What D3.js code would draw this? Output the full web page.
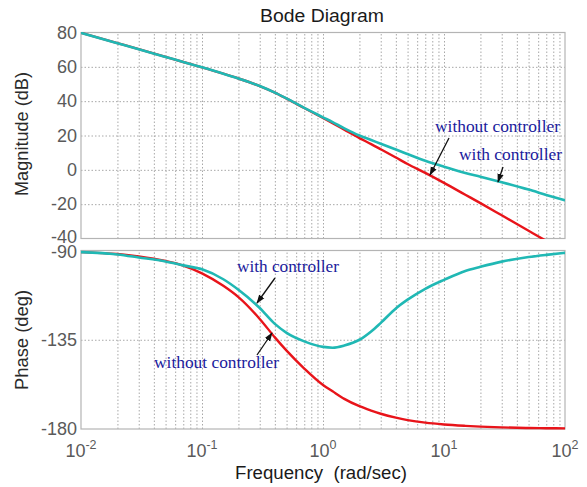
<!DOCTYPE html>
<html><head><meta charset="utf-8">
<script src="https://cdn.jsdelivr.net/npm/d3@7"></script>
<style>
html,body{margin:0;padding:0;background:#fff;}
svg{display:block;}
</style></head>
<body>
<svg id="c" width="587" height="487"></svg>
<script>
// ---- data ----
const freq = [0.01,0.02,0.03,0.05,0.07,0.1,0.15,0.2,0.3,0.4,0.5,0.7,1,1.2,1.5,2,2.5,3,4,5,7,10,15,20,30,50,70,100];
const magWithout = [79.8,73.8,70.3,65.8,62.8,59.7,56.0,53.2,48.8,45.0,41.5,36.0,30.2,27.2,23.4,18.5,15.0,12.0,7.2,3.4,-1.8,-7.6,-14.5,-19.4,-26.5,-35.5,-41.4,-47.5];
const magWith    = [79.8,73.8,70.3,65.8,62.8,59.7,56.0,53.2,48.8,45.0,41.6,36.1,30.6,27.8,24.2,20.0,17.4,15.2,11.8,9.2,5.3,1.8,-1.8,-4.0,-7.2,-11.5,-14.6,-17.8];
const phaseWithout = [-90.8,-91.8,-93,-95.3,-97.6,-101.5,-107.8,-113.5,-124.5,-133.8,-140.5,-149.5,-157.8,-161,-164.8,-168.5,-170.7,-172.3,-174.3,-175.5,-176.8,-177.7,-178.4,-178.8,-179.2,-179.5,-179.6,-179.7];
const phaseWith    = [-90.8,-92,-93.5,-95.5,-97.5,-99.5,-104.5,-109.8,-119,-127,-131.5,-135.8,-138.6,-139,-137.9,-135,-130.8,-126.5,-119.2,-114.8,-109.3,-104.8,-100.3,-98.2,-95.6,-93.3,-92.2,-91.2];
const magTicks = [-40,-20,0,20,40,60,80];
const phaseTicks = [-180,-135,-90];
const freqTicks = [0.01,0.1,1,10,100];
const freqTickLabels = ["-2","-1","0","1","2"];

const svg = d3.select("#c");
const L = 81, R = 565;
const x = d3.scaleLog().domain([0.01,100]).range([L,R]);
const yM = d3.scaleLinear().domain([-40,80]).range([238.5,32.5]);
const yP = d3.scaleLinear().domain([-180,-90]).range([429,250.5]);

const cyan = "#20b8b4", red = "#e8141a", navy = "#1a1a9c";
const gridColor = "#a8a8a8";
const sans = "Liberation Sans, Arial, sans-serif";
const serif = "Liberation Serif, Times New Roman, serif";

// minor + major frequency grid values
const gridFreqs = [];
for (let e=-2; e<2; e++) for (let k=1; k<10; k++) { const v=k*Math.pow(10,e); if (v>0.01) gridFreqs.push(v); }

function panel(y, yticks, top, bottom, labelShift) {
  const g = svg.append("g");
  g.append("g").attr("transform",`translate(0,${bottom})`)
    .call(d3.axisBottom(x).tickValues(gridFreqs).tickSize(-(bottom-top)).tickFormat(""))
    .call(s=>s.select(".domain").remove())
    .call(s=>s.selectAll("line").attr("stroke",gridColor).attr("stroke-dasharray","1.5,2").attr("stroke-width",1));
  g.append("g").attr("transform",`translate(${L},0)`)
    .call(d3.axisLeft(y).tickValues(yticks.filter(v=>v!==y.domain()[0] && v!==y.domain()[1])).tickSize(-(R-L)).tickFormat(""))
    .call(s=>s.select(".domain").remove())
    .call(s=>s.selectAll("line").attr("stroke",gridColor).attr("stroke-dasharray","1.5,2").attr("stroke-width",1));
  g.append("rect").attr("x",L).attr("y",top).attr("width",R-L).attr("height",bottom-top)
    .attr("fill","none").attr("stroke","#b4b4b4").attr("stroke-width",1.2);
  g.append("g").attr("transform",`translate(${L},0)`)
    .call(d3.axisLeft(y).tickValues(yticks).tickSize(0).tickPadding(4).tickFormat(d=>d))
    .call(s=>s.select(".domain").remove())
    .call(s=>s.selectAll("text").attr("font-family",sans).attr("font-size",18).attr("fill","#5a5a5a")
      .attr("dy",(d)=> (labelShift && labelShift[d]!==undefined) ? labelShift[d] : "0.32em"));
  return g;
}

panel(yM, magTicks, 32.5, 238.5, {"-40":"0.2em"});
panel(yP, phaseTicks, 250.5, 429, {"-90":"0.38em"});

const defs = svg.append("defs");
defs.append("clipPath").attr("id","clipM").append("rect").attr("x",L).attr("y",32).attr("width",R-L).attr("height",207);
defs.append("clipPath").attr("id","clipP").append("rect").attr("x",L).attr("y",250).attr("width",R-L).attr("height",180);
const marker = defs.append("marker").attr("id","arr").attr("viewBox","0 0 10 10").attr("refX",9).attr("refY",5)
  .attr("markerWidth",9).attr("markerHeight",9).attr("orient","auto").attr("markerUnits","userSpaceOnUse");
marker.append("path").attr("d","M0,1.5 L10,5 L0,8.5 Z").attr("fill","#111");

const lineM = arr => d3.line().x((d,i)=>x(freq[i])).y((d,i)=>yM(arr[i])).curve(d3.curveMonotoneX)(arr);
const lineP = arr => d3.line().x((d,i)=>x(freq[i])).y((d,i)=>yP(arr[i])).curve(d3.curveMonotoneX)(arr);

const cm = svg.append("g").attr("clip-path","url(#clipM)");
cm.append("path").attr("d",lineM(magWithout)).attr("fill","none").attr("stroke",red).attr("stroke-width",2.4);
cm.append("path").attr("d",lineM(magWith)).attr("fill","none").attr("stroke",cyan).attr("stroke-width",2.6);
const cp = svg.append("g").attr("clip-path","url(#clipP)");
cp.append("path").attr("d",lineP(phaseWithout)).attr("fill","none").attr("stroke",red).attr("stroke-width",2.4);
cp.append("path").attr("d",lineP(phaseWith)).attr("fill","none").attr("stroke",cyan).attr("stroke-width",2.6);

// x tick labels
const xl = svg.append("g").selectAll("text").data(freqTicks).join("text")
  .attr("x",d=>x(d)).attr("y",457).attr("text-anchor","middle")
  .attr("font-family",sans).attr("font-size",18).attr("fill","#5a5a5a");
xl.append("tspan").text("10");
xl.append("tspan").attr("dy",-8).attr("font-size",12.5).text((d,i)=>freqTickLabels[i]);

// titles
svg.append("text").attr("x",322).attr("y",22).attr("text-anchor","middle").attr("font-family",sans)
  .attr("font-size",17.5).attr("fill","#1a1a1a").attr("textLength",124).attr("lengthAdjust","spacingAndGlyphs").text("Bode Diagram");
svg.append("text").attr("x",321).attr("y",479).attr("text-anchor","middle").attr("font-family",sans)
  .attr("font-size",17.5).attr("fill","#1a1a1a").attr("textLength",172).attr("lengthAdjust","spacingAndGlyphs")
  .style("white-space","pre").text("Frequency  (rad/sec)");
svg.append("text").attr("transform","translate(28,134) rotate(-90)").attr("text-anchor","middle").attr("font-family",sans)
  .attr("font-size",17.5).attr("fill","#2a2a2a").attr("textLength",124).attr("lengthAdjust","spacingAndGlyphs").text("Magnitude (dB)");
svg.append("text").attr("transform","translate(28,340) rotate(-90)").attr("text-anchor","middle").attr("font-family",sans)
  .attr("font-size",17.5).attr("fill","#2a2a2a").attr("textLength",100).attr("lengthAdjust","spacingAndGlyphs").text("Phase (deg)");

// annotations
function note(tx, ty, txt, w, x1, y1, x2, y2) {
  svg.append("text").attr("x",tx).attr("y",ty).attr("font-family",serif).attr("font-size",17)
    .attr("fill",navy).attr("textLength",w).attr("lengthAdjust","spacingAndGlyphs").text(txt);
  svg.append("line").attr("x1",x1).attr("y1",y1).attr("x2",x2).attr("y2",y2)
    .attr("stroke","#111").attr("stroke-width",1.3).attr("marker-end","url(#arr)");
}
note(435,132,"without controller",125,449,138,430,175);
note(459,160,"with controller",103,503,167,498,182);
note(237,272,"with controller",102,275,278,257,303);
note(154,368,"without controller",125,257,355,272,333);
</script>
</body></html>
